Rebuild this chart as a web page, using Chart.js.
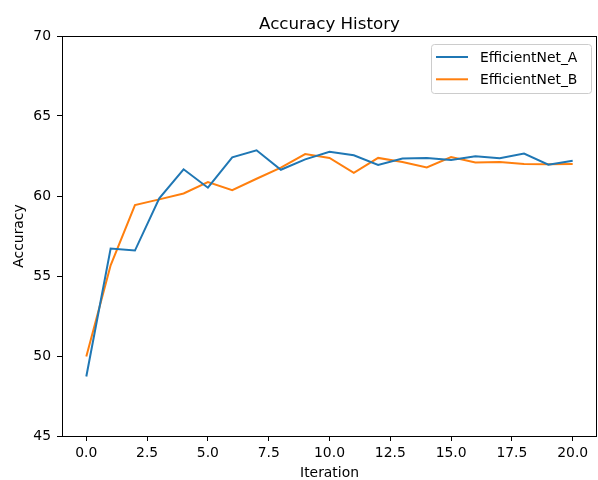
<!DOCTYPE html>
<html>
<head>
<meta charset="utf-8">
<script src="https://cdn.jsdelivr.net/npm/chart.js@4/dist/chart.umd.min.js"></script>
<style>
  html, body { margin: 0; padding: 0; background: #fff; }
  #c { display: block; }
</style>
</head>
<body>
<canvas id="c" width="598" height="480"></canvas>
<script>
const titleText = "Accuracy History";
const xLabel = "Iteration";
const yLabel = "Accuracy";
const iterations = [0,1,2,3,4,5,6,7,8,9,10,11,12,13,14,15,16,17,18,19,20];
const seriesNames = ["EfficientNet_A", "EfficientNet_B"];
const effA = [48.72,56.72,56.59,59.85,61.67,60.52,62.42,62.86,61.64,62.29,62.77,62.55,61.94,62.34,62.38,62.25,62.48,62.36,62.65,61.96,62.21];
const effB = [49.97,55.67,59.43,59.79,60.16,60.87,60.37,61.08,61.77,62.62,62.38,61.45,62.38,62.13,61.79,62.44,62.09,62.13,62.00,61.98,62.00];
const xTicks = [0,2.5,5,7.5,10,12.5,15,17.5,20];
const yTicks = [45,50,55,60,65,70];

const FONT = "DejaVu Sans";

const framePlugin = {
  id: 'frame',
  afterDatasetsDraw(chart) {
    const {ctx, chartArea: a} = chart;
    ctx.save();
    ctx.strokeStyle = '#000';
    ctx.lineWidth = 1;
    ctx.strokeRect(Math.round(a.left) + 0.5, Math.round(a.top) + 0.5,
                   Math.round(a.right - a.left) - 1, Math.round(a.bottom - a.top));
    ctx.restore();
  }
};

const titlePlugin = {
  id: 'mplTitle',
  afterDraw(chart) {
    const {ctx, chartArea: a} = chart;
    ctx.save();
    ctx.font = `16.7px "${FONT}"`;
    ctx.fillStyle = '#000';
    ctx.textAlign = 'center';
    ctx.textBaseline = 'alphabetic';
    ctx.fillText(titleText, (a.left + a.right) / 2, 29);
    ctx.restore();
  }
};

const legendPlugin = {
  id: 'mplLegend',
  afterDraw(chart) {
    const {ctx} = chart;
    const x0 = 431, y0 = 44, w = 160, h = 49, r = 3;
    ctx.save();
    ctx.fillStyle = 'rgba(255,255,255,0.8)';
    ctx.strokeStyle = '#cccccc';
    ctx.lineWidth = 1;
    ctx.beginPath();
    ctx.roundRect(x0 + 0.5, y0 + 0.5, w, h, r);
    ctx.fill();
    ctx.stroke();
    chart.data.datasets.forEach((ds, i) => {
      const y = 57 + i * 22.3;
      ctx.strokeStyle = ds.borderColor;
      ctx.lineWidth = 2;
      ctx.beginPath();
      ctx.moveTo(436, y);
      ctx.lineTo(468, y);
      ctx.stroke();
      ctx.fillStyle = '#000';
      ctx.font = `13.9px "${FONT}"`;
      ctx.textAlign = 'left';
      ctx.textBaseline = 'middle';
      ctx.fillText(ds.label, 480, y + 1);
    });
    ctx.restore();
  }
};

const colors = ['#1f77b4', '#ff7f0e'];
const seriesData = [effA, effB];

new Chart(document.getElementById('c'), {
  type: 'line',
  data: {
    datasets: seriesNames.map((name, i) => ({
      label: name,
      data: iterations.map((x, j) => ({x: x, y: seriesData[i][j]})),
      borderColor: colors[i],
      backgroundColor: colors[i],
      borderWidth: 2,
      pointRadius: 0,
      pointHoverRadius: 0,
      tension: 0,
      fill: false
    }))
  },
  options: {
    responsive: false,
    animation: false,
    devicePixelRatio: 1,
    layout: { padding: { top: 36, right: 1, left: 0, bottom: 0 } },
    plugins: {
      legend: { display: false },
      title: { display: false },
      tooltip: { enabled: false }
    },
    scales: {
      x: {
        type: 'linear',
        min: -1,
        max: 21,
        afterBuildTicks(scale) { scale.ticks = xTicks.map(v => ({value: v})); },
        afterFit(scale) { scale.height = 44; },
        ticks: {
          autoSkip: false,
          maxRotation: 0,
          padding: 4.5,
          color: '#000',
          font: { family: FONT, size: 13.9 },
          callback: (v) => Number(v).toFixed(1)
        },
        grid: { display: true, drawOnChartArea: false, drawTicks: true, tickLength: 5, tickColor: '#000', tickWidth: 1 },
        border: { display: false },
        title: { display: true, text: xLabel, color: '#000', font: { family: FONT, size: 13.9, lineHeight: 1 }, padding: 0 }
      },
      y: {
        min: 45,
        max: 70,
        afterBuildTicks(scale) { scale.ticks = yTicks.map(v => ({value: v})); },
        afterFit(scale) { scale.width = 62; },
        ticks: {
          padding: 6,
          color: '#000',
          font: { family: FONT, size: 13.9 }
        },
        grid: { display: true, drawOnChartArea: false, drawTicks: true, tickLength: 5, tickColor: '#000', tickWidth: 1 },
        border: { display: false },
        title: { display: true, text: yLabel, color: '#000', font: { family: FONT, size: 13.9 }, padding: { top: 11, bottom: 0 } }
      }
    }
  },
  plugins: [framePlugin, titlePlugin, legendPlugin]
});
</script>
</body>
</html>
